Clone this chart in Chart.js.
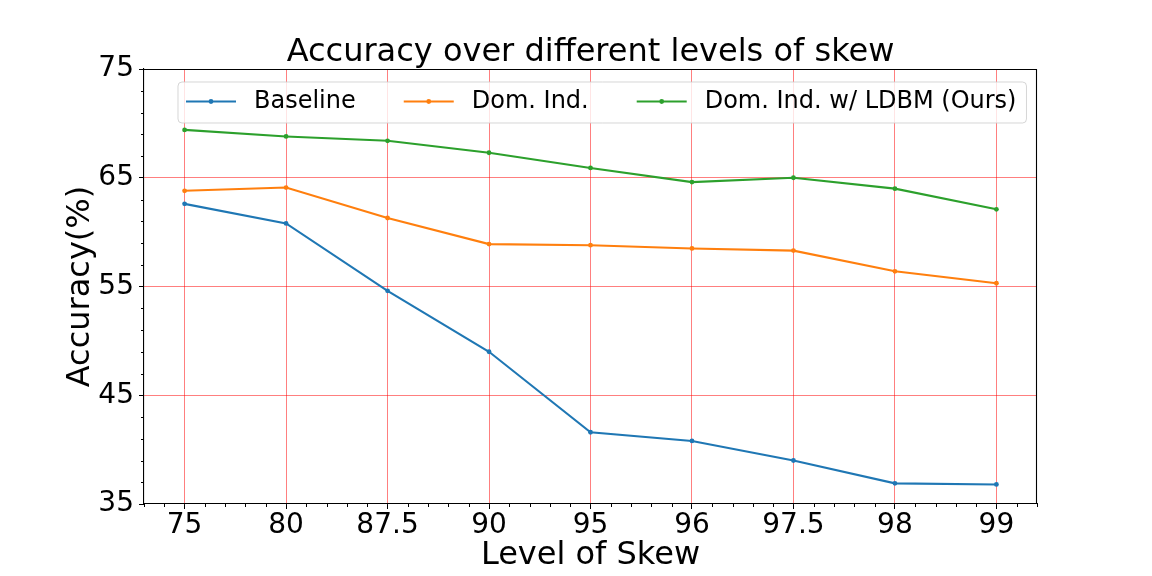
<!DOCTYPE html>
<html>
<head>
<meta charset="utf-8">
<script src="https://cdn.jsdelivr.net/npm/chart.js@4/dist/chart.umd.min.js"></script>
<style>
  html, body { margin: 0; padding: 0; background: #ffffff; }
  #c { display: block; }
</style>
</head>
<body>
<canvas id="c" width="1152" height="576"></canvas>
<script>
// ---- data ----
const skewLevels = ['75', '80', '87.5', '90', '95', '96', '97.5', '98', '99'];
const baseline   = [62.6, 60.8, 54.6, 49.0, 41.6, 40.8, 39.0, 36.9, 36.8];
const domInd     = [63.8, 64.1, 61.3, 58.9, 58.8, 58.5, 58.3, 56.4, 55.3];
const domIndLdbm = [69.4, 68.8, 68.4, 67.3, 65.9, 64.6, 65.0, 64.0, 62.1];
const yTicks     = [35, 45, 55, 65, 75];
const seriesNames = ['Baseline', 'Dom. Ind.', 'Dom. Ind. w/ LDBM (Ours)'];
const chartTitle = 'Accuracy over different levels of skew';
const xTitle = 'Level of Skew';
const yTitle = 'Accuracy(%)';

const FONT = '"DejaVu Sans", "Liberation Sans", sans-serif';
const colors = ['#1f77b4', '#ff7f0e', '#2ca02c'];
const GRID = 'rgba(255,0,0,0.5)';

function toPoints(arr) { return arr.map((v, i) => ({ x: i, y: v })); }

const seriesData = [baseline, domInd, domIndLdbm];
const datasets = seriesData.map((arr, k) => ({
  label: seriesNames[k],
  data: toPoints(arr),
  borderColor: colors[k],
  backgroundColor: colors[k],
  borderWidth: 2.1,
  pointRadius: 2.4,
  pointBorderWidth: 0,
  pointHoverRadius: 2.4,
  tension: 0,
  fill: false
}));

const extrasPlugin = {
  id: 'mplExtras',
  afterDraw(chart) {
    const { ctx, chartArea: ca, scales } = chart;
    const xs = scales.x, ys = scales.y;
    ctx.save();
    // title centred over the axes
    ctx.font = '32px ' + FONT;
    ctx.fillStyle = '#000';
    ctx.textAlign = 'center';
    ctx.textBaseline = 'alphabetic';
    ctx.fillText(chartTitle, (ca.left + ca.right) / 2, ca.top - 8);

    // top and right spines
    ctx.strokeStyle = '#000';
    ctx.lineWidth = 1.1;
    ctx.beginPath();
    const t = Math.round(ca.top) + 0.5, r = Math.round(ca.right) - 0.5;
    ctx.moveTo(Math.round(ca.left), t);
    ctx.lineTo(r, t);
    ctx.lineTo(r, Math.round(ca.bottom));
    ctx.stroke();
    // minor ticks
    ctx.lineWidth = 1;
    ctx.beginPath();
    for (let k = -2; k <= 42; k++) {
      if (k % 5 === 0) continue;
      const px = Math.round(xs.getPixelForValue(k / 5)) + 0.5;
      ctx.moveTo(px, Math.round(ca.bottom));
      ctx.lineTo(px, Math.round(ca.bottom) + 3);
    }
    for (let v = yTicks[0]; v <= yTicks[yTicks.length - 1]; v += 2) {
      if ((v - yTicks[0]) % 10 === 0) continue;
      const py = Math.round(ys.getPixelForValue(v)) + 0.5;
      ctx.moveTo(Math.round(ca.left), py);
      ctx.lineTo(Math.round(ca.left) - 3, py);
    }
    ctx.stroke();

    // legend (matplotlib style, inside axes)
    ctx.font = '24px ' + FONT;
    const left = ca.left + 34, top = ca.top + 13, h = 41;
    const cy = top + 19.5;
    let x = left + 8;
    const items = chart.data.datasets.map(ds => {
      const w = ctx.measureText(ds.label).width;
      const it = { x, ds, w };
      x += 50 + 18 + w + 48;
      return it;
    });
    const last = items[items.length - 1];
    const right = last.x + 68 + last.w + 10;
    const rad = 4;
    ctx.beginPath();
    ctx.moveTo(left + rad, top);
    ctx.lineTo(right - rad, top);
    ctx.quadraticCurveTo(right, top, right, top + rad);
    ctx.lineTo(right, top + h - rad);
    ctx.quadraticCurveTo(right, top + h, right - rad, top + h);
    ctx.lineTo(left + rad, top + h);
    ctx.quadraticCurveTo(left, top + h, left, top + h - rad);
    ctx.lineTo(left, top + rad);
    ctx.quadraticCurveTo(left, top, left + rad, top);
    ctx.closePath();
    ctx.fillStyle = 'rgba(255,255,255,0.8)';
    ctx.fill();
    ctx.strokeStyle = 'rgba(204,204,204,0.8)';
    ctx.lineWidth = 1;
    ctx.stroke();
    items.forEach(it => {
      ctx.strokeStyle = it.ds.borderColor;
      ctx.lineWidth = 2.1;
      ctx.beginPath();
      ctx.moveTo(it.x, cy);
      ctx.lineTo(it.x + 50, cy);
      ctx.stroke();
      ctx.fillStyle = it.ds.borderColor;
      ctx.beginPath();
      ctx.arc(it.x + 25, cy, 2.4, 0, Math.PI * 2);
      ctx.fill();
      ctx.fillStyle = '#000';
      ctx.textAlign = 'left';
      ctx.textBaseline = 'middle';
      ctx.fillText(it.ds.label, it.x + 68, cy);
    });
    ctx.restore();
  }
};

const yGridColor = (c) => {
  const v = c.tick ? c.tick.value : null;
  return (v === yTicks[0] || v === yTicks[yTicks.length - 1]) ? 'rgba(0,0,0,0)' : GRID;
};

new Chart(document.getElementById('c'), {
  type: 'line',
  data: { datasets },
  plugins: [extrasPlugin],
  options: {
    responsive: false,
    animation: false,
    devicePixelRatio: 1,
    layout: { padding: { left: 0, right: 115, top: 69, bottom: 0 } },
    plugins: {
      legend: { display: false },
      tooltip: { enabled: false },
      title: { display: false }
    },
    scales: {
      x: {
        type: 'linear',
        min: -0.4,
        max: 8.4,
        afterBuildTicks(scale) { scale.ticks = skewLevels.map((_, i) => ({ value: i })); },
        afterFit(scale) { scale.height = 72; },
        ticks: {
          callback: (v) => skewLevels[v],
          color: '#000',
          font: { family: FONT, size: 28 },
          padding: 0,
          maxRotation: 0,
          autoSkip: false
        },
        grid: { color: GRID, lineWidth: 1, tickColor: '#000', tickLength: 5, tickWidth: 1 },
        border: { color: '#000', width: 1.1 },
        title: {
          display: true,
          text: xTitle,
          color: '#000',
          font: { family: FONT, size: 32, lineHeight: 1.2 },
          padding: { top: 0, bottom: 1 }
        }
      },
      y: {
        type: 'linear',
        min: yTicks[0],
        max: yTicks[yTicks.length - 1],
        afterBuildTicks(scale) { scale.ticks = yTicks.map(v => ({ value: v })); },
        afterFit(scale) { scale.width = 144; },
        ticks: {
          color: '#000',
          font: { family: FONT, size: 28 },
          padding: 5
        },
        grid: { color: yGridColor, lineWidth: 1, tickColor: '#000', tickLength: 5, tickWidth: 1 },
        border: { color: '#000', width: 1.1 },
        title: {
          display: true,
          text: yTitle,
          color: '#000',
          font: { family: FONT, size: 32, lineHeight: 1.2 },
          padding: { top: 61, bottom: 0 }
        }
      }
    }
  }
});
</script>
</body>
</html>
